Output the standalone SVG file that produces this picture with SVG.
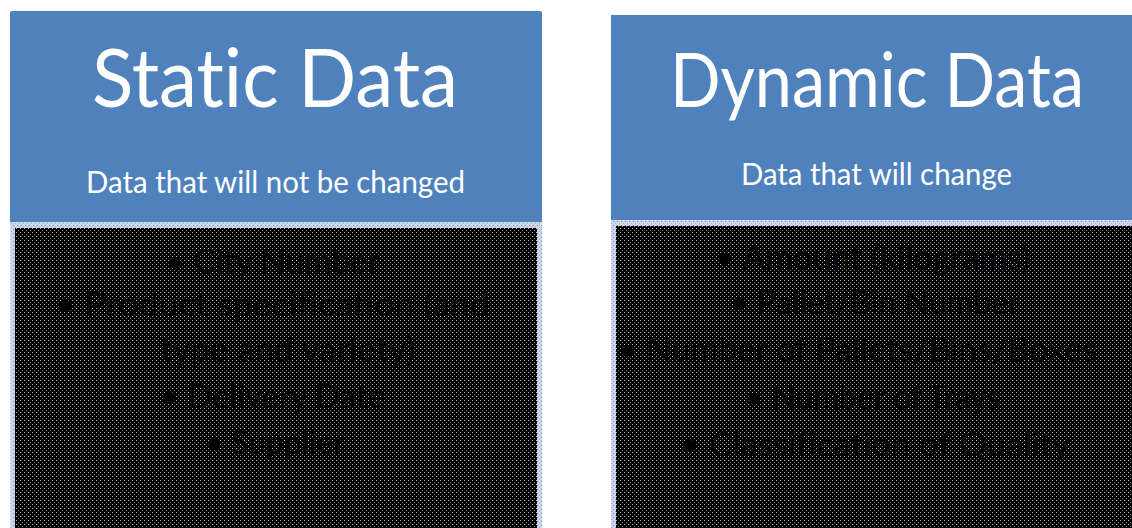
<svg xmlns="http://www.w3.org/2000/svg" width="1132" height="528" viewBox="0 0 1132 528">
  <style>
    .hdr { fill: #4f81bd; }
    text { font-variant-ligatures: none; }
    .title { font-family: Lato, "Open Sans", "Liberation Sans", sans-serif; fill: #ffffff; }
    .sub { font-family: Lato, "Open Sans", "Liberation Sans", sans-serif; fill: #ffffff; font-size: 30px; }
    .item { font-family: Lato, "Open Sans", "Liberation Sans", sans-serif; fill: #000000; font-size: 32px; }
  </style>
  <defs>
    <pattern id="dots" width="4" height="4" patternUnits="userSpaceOnUse">
      <rect width="4" height="4" fill="#000000"/>
      <rect x="0" y="0" width="1" height="1" fill="#c8c8c8"/>
      <rect x="2" y="2" width="1" height="1" fill="#808080"/>
    </pattern>
    <pattern id="band" width="4" height="4" patternUnits="userSpaceOnUse">
      <rect width="4" height="4" fill="#cdd5ea"/>
      <rect x="1" y="1" width="1" height="1" fill="#7f8db0"/>
      <rect x="3" y="3" width="1" height="1" fill="#a9b4d0"/>
    </pattern>
  </defs>
  <rect width="1132" height="528" fill="#ffffff"/>

  <g id="node-static">
    <rect class="hdr" x="10" y="11" width="532" height="215" rx="2"/>
    <rect x="10" y="222" width="532" height="306" fill="url(#band)"/>
    <rect x="15" y="228" width="522" height="300" fill="url(#dots)"/>
    <text class="title" x="92" y="107" font-size="82" textLength="366" lengthAdjust="spacingAndGlyphs">Static Data</text>
    <text class="sub" x="86" y="193" textLength="379" lengthAdjust="spacingAndGlyphs">Data that will not be changed</text>
    <text class="item" x="165" y="273" textLength="215" lengthAdjust="spacingAndGlyphs">• City Number</text>
    <text class="item" x="55" y="316" textLength="435" lengthAdjust="spacingAndGlyphs">• Product specification (and</text>
    <text class="item" x="160" y="361" textLength="255" lengthAdjust="spacingAndGlyphs">type and variety)</text>
    <text class="item" x="160" y="408" textLength="225" lengthAdjust="spacingAndGlyphs">• Delivery Date</text>
    <text class="item" x="205" y="454" textLength="140" lengthAdjust="spacingAndGlyphs">• Supplier</text>
  </g>

  <g id="node-dynamic">
    <rect class="hdr" x="611" y="15" width="521" height="209"/>
    <rect x="611" y="220" width="521" height="308" fill="url(#band)"/>
    <rect x="616" y="226" width="516" height="302" fill="url(#dots)"/>
    <text class="title" x="670" y="107" font-size="76" textLength="414" lengthAdjust="spacingAndGlyphs">Dynamic Data</text>
    <text class="sub" x="741" y="185" textLength="271" lengthAdjust="spacingAndGlyphs">Data that will change</text>
    <text class="item" x="715" y="269" textLength="315" lengthAdjust="spacingAndGlyphs">• Amount (kilograms)</text>
    <text class="item" x="730" y="314" textLength="290" lengthAdjust="spacingAndGlyphs">• Pallet/Bin Number</text>
    <text class="item" x="617" y="361" textLength="480" lengthAdjust="spacingAndGlyphs">• Number of Pallets/Bins/Boxes</text>
    <text class="item" x="745" y="409" textLength="255" lengthAdjust="spacingAndGlyphs">• Number of Trays</text>
    <text class="item" x="680" y="456" textLength="390" lengthAdjust="spacingAndGlyphs">• Classification of Quality</text>
  </g>

  <g id="connectors"/>
</svg>
